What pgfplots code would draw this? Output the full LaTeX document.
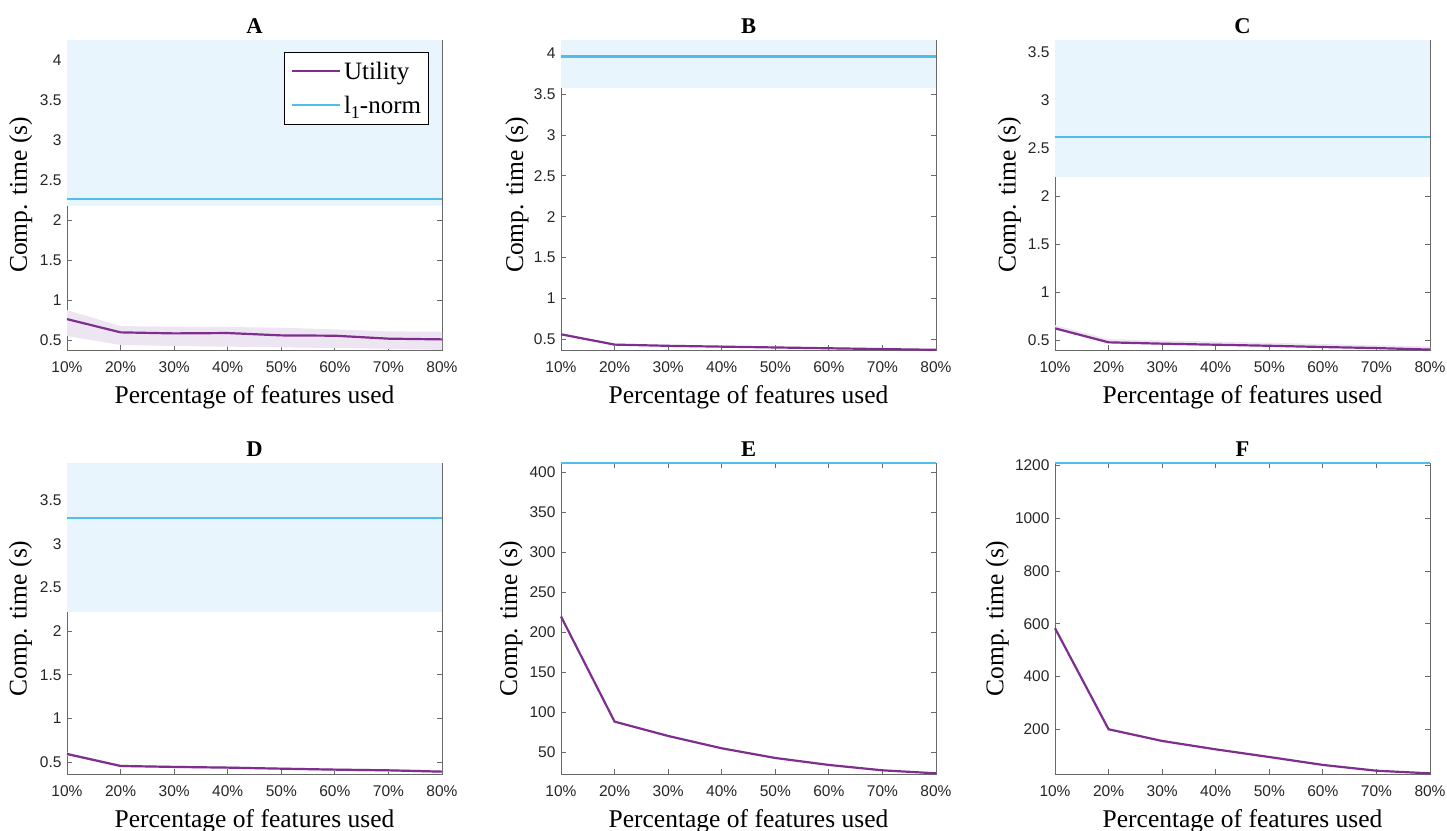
\documentclass[border=0pt]{standalone}
\usepackage{pgfplots}
\pgfplotsset{compat=1.18}
\usepackage{fontspec}
\setmainfont{Liberation Serif}
\newfontfamily\ticksf{Liberation Sans}
\definecolor{upurple}{RGB}{126,47,142}
\definecolor{lblue}{RGB}{77,190,238}
\definecolor{bandblue}{RGB}{233,245,252}
\definecolor{bandpurple}{RGB}{238,229,242}
\definecolor{axgray}{RGB}{105,105,105}
\definecolor{ticktext}{RGB}{38,38,38}
\pgfplotsset{
  panel/.style={
    scale only axis, width=375pt, height=310pt,
    xmin=1, xmax=8, xtick={1,...,8},
    xticklabels={10\%,20\%,30\%,40\%,50\%,60\%,70\%,80\%},
    tick align=inside, major tick length=5pt,
    axis line style={axgray, line width=0.8pt},
    every tick/.style={axgray, line width=0.8pt},
    tick label style={font=\ticksf\fontsize{15.5}{17}\selectfont, text=ticktext},
    xticklabel style={yshift=-8pt},
    yticklabel style={xshift=-2pt},
    /pgf/number format/assume math mode=true,
    /pgf/number format/1000 sep={},
    scaled y ticks=false,
    xlabel={Percentage of features used},
    ylabel={Comp. time (s)},
    label style={font=\fontsize{25.5}{27}\selectfont, text=black},
    xlabel style={at={(axis description cs:0.5,-0.171)}, anchor=base},
    title style={font=\bfseries\fontsize{22.5}{24}\selectfont, yshift=-3pt},
    clip=false,
    anchor=south west,
  },
  uline/.style={upurple, line width=2.2pt},
  bline/.style={lblue, line width=2.2pt},
  ubandst/.style={fill=bandpurple, draw=none, forget plot},
  bbandst/.style={fill=bandblue, draw=none, forget plot},
}
\begin{document}
\begin{tikzpicture}
\useasboundingbox (0pt,0pt) rectangle (1447pt,830pt);
% ---------------- A
\begin{axis}[panel, at={(67pt,480pt)}, title={A},
  ymin=0.375, ymax=4.259, ytick={0.5,1,...,4},
  ylabel style={at={(axis description cs:-0.107,0.5)}, anchor=base},
  legend style={at={(0.965,0.961)}, anchor=north east, draw=black, line width=0.6pt,
    font=\fontsize{25}{27}\selectfont, inner xsep=6pt, inner ysep=8pt,
    nodes={inner sep=1.5pt}, row sep=12pt, column sep=2pt},
  legend cell align=left,
  legend image code/.code={\draw[#1, line width=1.8pt] (0pt,0pt) -- (48pt,0pt);},
]
\addplot[bbandst] coordinates {(1,2.179) (8,2.179) (8,4.259) (1,4.259)} -- cycle;
\addplot[ubandst] coordinates {(1,0.875) (2,0.675) (3,0.667) (4,0.663) (5,0.654) (6,0.633) (7,0.608) (8,0.604)
  (8,0.376) (7,0.39) (6,0.40) (5,0.408) (4,0.417) (3,0.425) (2,0.4375) (1,0.55)} -- cycle;
\addplot[uline] coordinates {(1,0.762) (2,0.596) (3,0.583) (4,0.5875) (5,0.558) (6,0.554) (7,0.517) (8,0.508)};
\addlegendentry{Utility}
\addplot[bline] coordinates {(1,2.271) (8,2.271)};
\addlegendentry{l\raisebox{-0.45ex}{\fontsize{18}{18}\selectfont 1}-norm}
\end{axis}
% ---------------- B
\begin{axis}[panel, at={(561pt,480pt)}, title={B},
  ymin=0.369, ymax=4.163, ytick={0.5,1,...,4},
  ylabel style={at={(axis description cs:-0.101,0.5)}, anchor=base},
]
\addplot[bbandst] coordinates {(1,3.58) (8,3.58) (8,4.163) (1,4.163)} -- cycle;
\addplot[ubandst] coordinates {(1,0.575) (2,0.447) (3,0.432) (4,0.422) (5,0.412) (6,0.402) (7,0.392) (8,0.382)
  (8,0.369) (7,0.373) (6,0.382) (5,0.392) (4,0.402) (3,0.412) (2,0.427) (1,0.552)} -- cycle;
\addplot[uline] coordinates {(1,0.561) (2,0.435) (3,0.42) (4,0.41) (5,0.40) (6,0.39) (7,0.38) (8,0.371)};
\addplot[bline] coordinates {(1,3.96) (8,3.96)};
\end{axis}
% ---------------- C
\begin{axis}[panel, at={(1055pt,480pt)}, title={C},
  ymin=0.396, ymax=3.632, ytick={0.5,1,...,3.5},
  ylabel style={at={(axis description cs:-0.105,0.5)}, anchor=base},
]
\addplot[bbandst] coordinates {(1,2.198) (8,2.198) (8,3.632) (1,3.632)} -- cycle;
\addplot[ubandst] coordinates {(1,0.655) (2,0.51) (3,0.495) (4,0.484) (5,0.472) (6,0.458) (7,0.446) (8,0.432)
  (8,0.396) (7,0.406) (6,0.417) (5,0.43) (4,0.441) (3,0.452) (2,0.466) (1,0.61)} -- cycle;
\addplot[uline] coordinates {(1,0.622) (2,0.476) (3,0.462) (4,0.451) (5,0.44) (6,0.427) (7,0.416) (8,0.40)};
\addplot[bline] coordinates {(1,2.623) (8,2.623)};
\end{axis}
% ---------------- D
\begin{axis}[panel, at={(67pt,56pt)}, height=311pt, title={D},
  ymin=0.366, ymax=3.924, ytick={0.5,1,...,3.5},
  ylabel style={at={(axis description cs:-0.1075,0.5)}, anchor=base},
]
\addplot[bbandst] coordinates {(1,2.214) (8,2.214) (8,3.924) (1,3.924)} -- cycle;
\addplot[ubandst] coordinates {(1,0.612) (2,0.473) (3,0.462) (4,0.454) (5,0.442) (6,0.431) (7,0.423) (8,0.41)
  (8,0.378) (7,0.394) (6,0.402) (5,0.413) (4,0.425) (3,0.433) (2,0.444) (1,0.578)} -- cycle;
\addplot[uline] coordinates {(1,0.595) (2,0.458) (3,0.447) (4,0.439) (5,0.427) (6,0.416) (7,0.408) (8,0.393)};
\addplot[bline] coordinates {(1,3.294) (8,3.294)};
\end{axis}
% ---------------- E
\begin{axis}[panel, at={(561pt,56pt)}, height=311pt, title={E},
  ymin=22.9, ymax=411.25, ytick={50,100,...,400},
  ylabel style={at={(axis description cs:-0.1173,0.5)}, anchor=base},
]
\addplot[uline] coordinates {(1,219.6) (2,88.3) (3,70.4) (4,55) (5,42.9) (6,34.2) (7,27.5) (8,23.75)};
\addplot[bline] coordinates {(1,411.5) (8,411.5)};
\end{axis}
% ---------------- F
\begin{axis}[panel, at={(1055pt,56pt)}, height=311pt, title={F},
  ymin=30.6, ymax=1208.8, ytick={200,400,...,1200},
  ylabel style={at={(axis description cs:-0.1376,0.5)}, anchor=base},
]
\addplot[uline] coordinates {(1,583) (2,200) (3,155.8) (4,124) (5,95) (6,65) (7,43) (8,33)};
\addplot[bline] coordinates {(1,1209.5) (8,1209.5)};
\end{axis}
\end{tikzpicture}
\end{document}
